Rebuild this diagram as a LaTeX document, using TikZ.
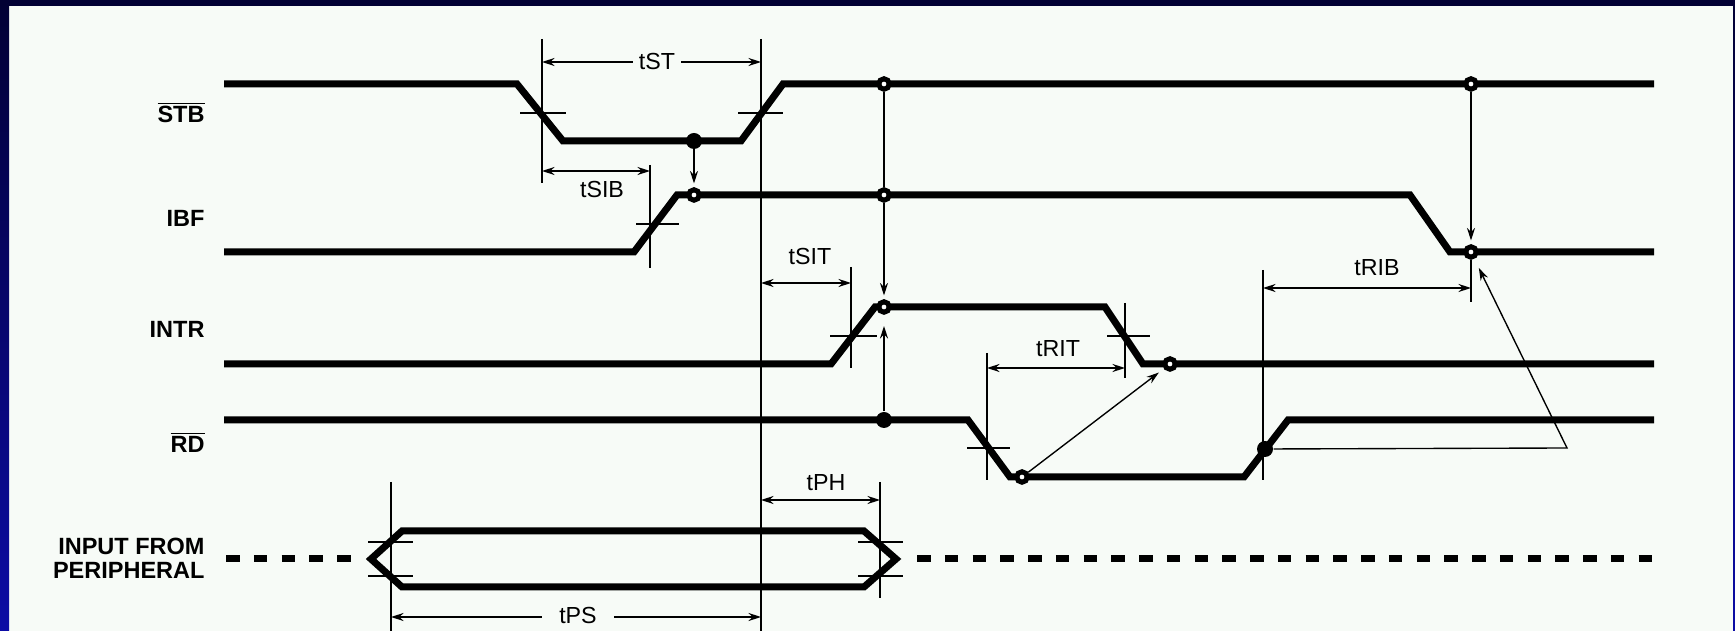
\documentclass[tikz,border=0pt]{standalone}
\usepackage{fontspec}
\setmainfont{Liberation Sans}
\usetikzlibrary{arrows.meta}
\definecolor{panel}{RGB}{247,251,247}
\definecolor{navy}{RGB}{2,0,52}
\definecolor{frameblue}{RGB}{12,12,165}
\begin{document}
\begin{tikzpicture}[x=0.4pt,y=-0.4pt,
  sig/.style={line width=2.8pt},
  thinline/.style={line width=0.55pt},
  arr/.style={thinline,-{Stealth[length=5pt,width=3.2pt]},shorten >=1.5pt},
  dimarrow/.style={thinline,{Stealth[length=5pt,width=3.2pt]}-{Stealth[length=5pt,width=3.2pt]}},
  ring/.style={circle,draw,line width=2pt,fill=white,minimum size=4.2pt,inner sep=0pt},
  blackdot/.style={circle,fill=black,minimum size=6.4pt,inner sep=0pt},
  signame/.style={font=\bfseries\fontsize{9.4}{11}\selectfont,anchor=base east,inner sep=0pt},
  tlabel/.style={font=\fontsize{9.3}{11}\selectfont,anchor=base,inner sep=0pt},
  cutlabel/.style={tlabel,fill=panel,inner xsep=2.5pt,inner ysep=1pt}]
\useasboundingbox (0,0) rectangle (1735,631);
% background frame
\fill[panel] (0,0) rectangle (1735,631);
\shade[top color=navy,bottom color=frameblue] (0,0) rectangle (9,631);
\shade[top color=navy,bottom color=frameblue] (1733,0) rectangle (1735,631);
\fill[navy] (0,0) rectangle (1735,6);

% signal names
\node[signame] (nSTB) at (205,123) {$\overline{\hbox{STB}}$};
\node[signame] (nIBF) at (205,227) {IBF};
\node[signame] (nINTR) at (205,338) {INTR};
\node[signame] (nRD) at (205,453) {$\overline{\hbox{RD}}$};
\node[signame] (nIN1) at (205,555) {INPUT FROM};
\node[signame] (nIN2) at (205,579) {PERIPHERAL};

% waveforms
\draw[sig] (224,84) -- (517,84) -- (563,141) -- (741,141) -- (783,84) -- (1654,84);
\draw[sig] (224,252) -- (634,252) -- (677,195) -- (1410,195) -- (1450,252) -- (1654,252);
\draw[sig] (224,364) -- (831,364) -- (875,307) -- (1105,307) -- (1143,364) -- (1654,364);
\draw[sig] (224,420) -- (968,420) -- (1010,477) -- (1244,477) -- (1288,420) -- (1654,420);
\draw[sig,dash pattern=on 5.4pt off 5.7pt] (226,559) -- (352,559);
\draw[sig,dash pattern=on 5.4pt off 5.7pt] (917,559) -- (1654,559);
\draw[sig] (864,531) -- (402,531) -- (371,559) -- (402,587) -- (864,587) -- (896,559) -- cycle;

% threshold ticks
\draw[thinline] (520,113) -- (566,113);
\draw[thinline] (738,113) -- (783,113);
\draw[thinline] (636,224) -- (679,224);
\draw[thinline] (830,336) -- (877,336);
\draw[thinline] (1107,336) -- (1150,336);
\draw[thinline] (967,448) -- (1010,448);
\draw[thinline] (368,542) -- (413,542);
\draw[thinline] (368,576) -- (413,576);
\draw[thinline] (858,542) -- (903,542);
\draw[thinline] (858,576) -- (903,576);

% reference verticals
\coordinate (v1t) at (542,39);  \coordinate (v1b) at (542,183);
\coordinate (v2t) at (761,39);  \coordinate (v2b) at (761,631);
\coordinate (v3t) at (650,165); \coordinate (v3b) at (650,268);
\coordinate (v4t) at (851,267); \coordinate (v4b) at (851,368);
\coordinate (v6t) at (987,353); \coordinate (v6b) at (987,480);
\coordinate (v7t) at (1125,303); \coordinate (v7b) at (1125,378);
\coordinate (v8t) at (1263,270); \coordinate (v8b) at (1263,480);
\coordinate (v10t) at (880,482); \coordinate (v10b) at (880,598);
\coordinate (v11t) at (391,482); \coordinate (v11b) at (391,631);
\draw[thinline] (v1t) -- (v1b);
\draw[thinline] (v2t) -- (v2b);
\draw[thinline] (v3t) -- (v3b);
\draw[thinline] (v4t) -- (v4b);
\draw[thinline] (v6t) -- (v6b);
\draw[thinline] (v7t) -- (v7b);
\draw[thinline] (v8t) -- (v8b);
\draw[thinline] (v10t) -- (v10b);
\draw[thinline] (v11t) -- (v11b);

% markers
\node[ring] (c1) at (884,84) {};
\node[ring] (c2) at (1471,84) {};
\node[blackdot] (d1) at (694,141) {};
\node[ring] (c3) at (694,195) {};
\node[ring] (c4) at (884,195) {};
\node[ring] (c5) at (1471,252) {};
\node[ring] (c6) at (884,307) {};
\node[ring] (c7) at (1170,364) {};
\node[blackdot] (d2) at (884,420) {};
\node[ring] (c8) at (1022,477) {};
\node[blackdot] (d3) at (1265,449) {};
\coordinate (c5low) at (1471,302);
\coordinate (rbCorner) at (1567,448);

% causal arrows
\draw[arr] (d1) -- (c3);
\draw[thinline] (c1) -- (c4);
\draw[arr] (c4) -- (c6);
\draw[arr,shorten >=4.5pt] (d2) -- (c6);
\draw[arr] (c2) -- (c5);
\draw[thinline] (c5) -- (c5low);
\draw[arr,shorten >=2.5pt] (c8) -- (c7);
\draw[arr,shorten >=4pt] (d3) -- (rbCorner) -- (c5);

% timing dimensions
\coordinate (tSTa) at (542,62);   \coordinate (tSTb) at (761,62);
\coordinate (tSIBa) at (542,171); \coordinate (tSIBb) at (650,171);
\coordinate (tSITa) at (761,283); \coordinate (tSITb) at (851,283);
\coordinate (tRITa) at (987,368); \coordinate (tRITb) at (1125,368);
\coordinate (tRIBa) at (1263,288); \coordinate (tRIBb) at (1471,288);
\coordinate (tPHa) at (761,500);  \coordinate (tPHb) at (880,500);
\coordinate (tPSa) at (391,617);  \coordinate (tPSb) at (761,617);
\draw[dimarrow] (tSTa) -- (tSTb);
\draw[dimarrow] (tSIBa) -- (tSIBb);
\draw[dimarrow] (tSITa) -- (tSITb);
\draw[dimarrow] (tRITa) -- (tRITb);
\draw[dimarrow] (tRIBa) -- (tRIBb);
\draw[dimarrow] (tPHa) -- (tPHb);
\draw[dimarrow] (tPSa) -- (tPSb);

\node[cutlabel] (lST) at (657,70) {tST};
\node[tlabel] (lSIB) at (602,198) {tSIB};
\node[tlabel] (lSIT) at (810,265) {tSIT};
\node[tlabel] (lRIT) at (1058,357) {tRIT};
\node[tlabel] (lRIB) at (1377,276) {tRIB};
\node[tlabel] (lPH) at (826,491) {tPH};
\node[cutlabel,inner xsep=7pt] (lPS) at (578,624) {tPS};
\end{tikzpicture}
\end{document}
